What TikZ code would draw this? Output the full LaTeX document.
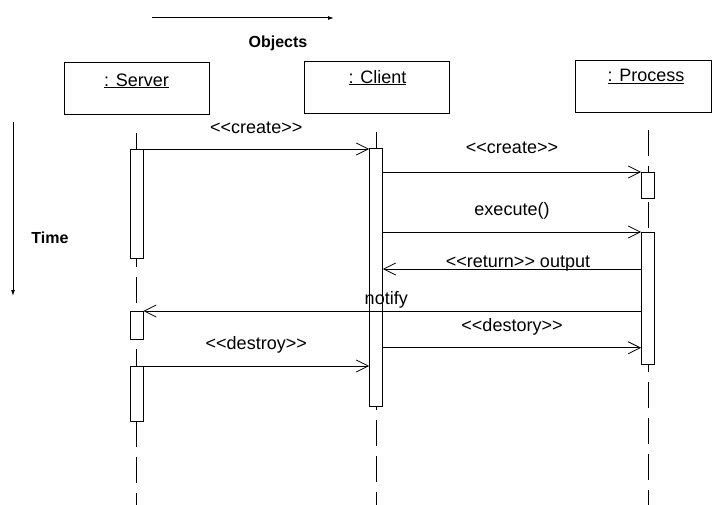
\documentclass[tikz,border=0pt]{standalone}
\usepackage{fontspec}
\newfontfamily\umlfont{Liberation Sans}
\usetikzlibrary{arrows.meta}
\usetikzlibrary{calc}
\usetikzlibrary{positioning}

\begin{document}
\begin{tikzpicture}
        [ x=1pt, y=-1pt
        , obj/.style={draw, line width=0.9pt, minimum width=145pt, minimum height=52pt, inner sep=0}
        , act/.style={draw, fill=white, line width=0.8pt, minimum width=13pt, inner sep=0, anchor=north}
        , life/.style={line width=0.8pt, dash pattern=on 26pt off 10pt}
        , msg/.style={line width=0.8pt, -{Straight Barb[length=12pt,width=12pt]}}
        , axis/.style={line width=1pt, -{Latex[length=6pt,width=4pt]}}
        , lbl/.style={font=\umlfont\fontsize{18}{20}\selectfont, inner sep=0}
        , hdr/.style={font=\umlfont\fontsize{16}{18}\selectfont\bfseries, inner sep=0}
        ]
                \useasboundingbox (0,0) rectangle (712,505);
                \coordinate (bot) at (0,505);

                \coordinate (oleft) at (152,18);
                \coordinate (oright) at (334,18);
                \draw[axis] (oleft) -- (oright);
                \node[hdr] (objs) at (278,43) {Objects};
                \coordinate (ttop) at (13,122);
                \coordinate (tbot) at (13,296);
                \draw[axis] (ttop) -- (tbot);
                \node[hdr] (time) at (50,238) {Time};

                \node[obj] (srv) at (136.5,88.5) {};
                \node[obj] (cli) at (376.5,87.5) {};
                \node[obj, minimum width=136pt] (prc) at (643,86) {};
                \node[lbl, anchor=base] (srvname) at ($(srv.north)+(0,24)$) {\underline{: Server}};
                \node[lbl, anchor=base] (cliname) at ($(cli.north)+(1,22)$) {\underline{: Client}};
                \node[lbl, anchor=base] (prcname) at ($(prc.north)+(3,22)$) {\underline{: Process}};

                \draw[life] (136.5,133) -- (136.5,505);
                \draw[life] (376,132) -- (376 ,505);
                \draw[life] (648,130) -- (648,505);

                \node[act, minimum height=109pt] (sa1) at (136.5,149) {};
                \node[act, minimum height=28pt] (sa2) at (136.5,311) {};
                \node[act, minimum height=55pt] (sa3) at (136.5,366) {};
                \node[act, minimum height=258pt] (ca) at (376,148) {};
                \node[act, minimum height=26pt] (pa1) at (648,172) {};
                \node[act, minimum height=132pt] (pa2) at (648,232) {};

                \draw[msg] (sa1.north east) -- node[lbl, yshift=21pt] (m1) {<<create>>} (ca.west |- sa1.north);
                \draw[msg] (ca.east |- pa1.north) -- node[lbl, yshift=24pt] (m2) {<<create>>} (pa1.north west);
                \draw[msg] (ca.east |- pa2.north) -- node[lbl, yshift=21pt] (m3) {execute()} (pa2.north west);
                \draw[msg] ($(pa2.north west)+(0,37)$) -- node[lbl, yshift=5pt, xshift=6pt] (m4) {<<return>> output} (ca.east |- {$(pa2.north west)+(0,37)$});
                \draw[msg] (pa2.west |- sa2.north) -- node[lbl, yshift=11pt, xshift=-6pt] (m5) {notify} (sa2.north east);
                \draw[msg] (ca.east |- {$(pa2.south west)+(0,-17)$}) -- node[lbl, yshift=21pt] (m6) {<<destory>>} ($(pa2.south west)+(0,-17)$);
                \draw[msg] (sa3.north east) -- node[lbl, yshift=21pt] (m7) {<<destroy>>} (ca.west |- sa3.north);
        \end{tikzpicture}
\end{document}
